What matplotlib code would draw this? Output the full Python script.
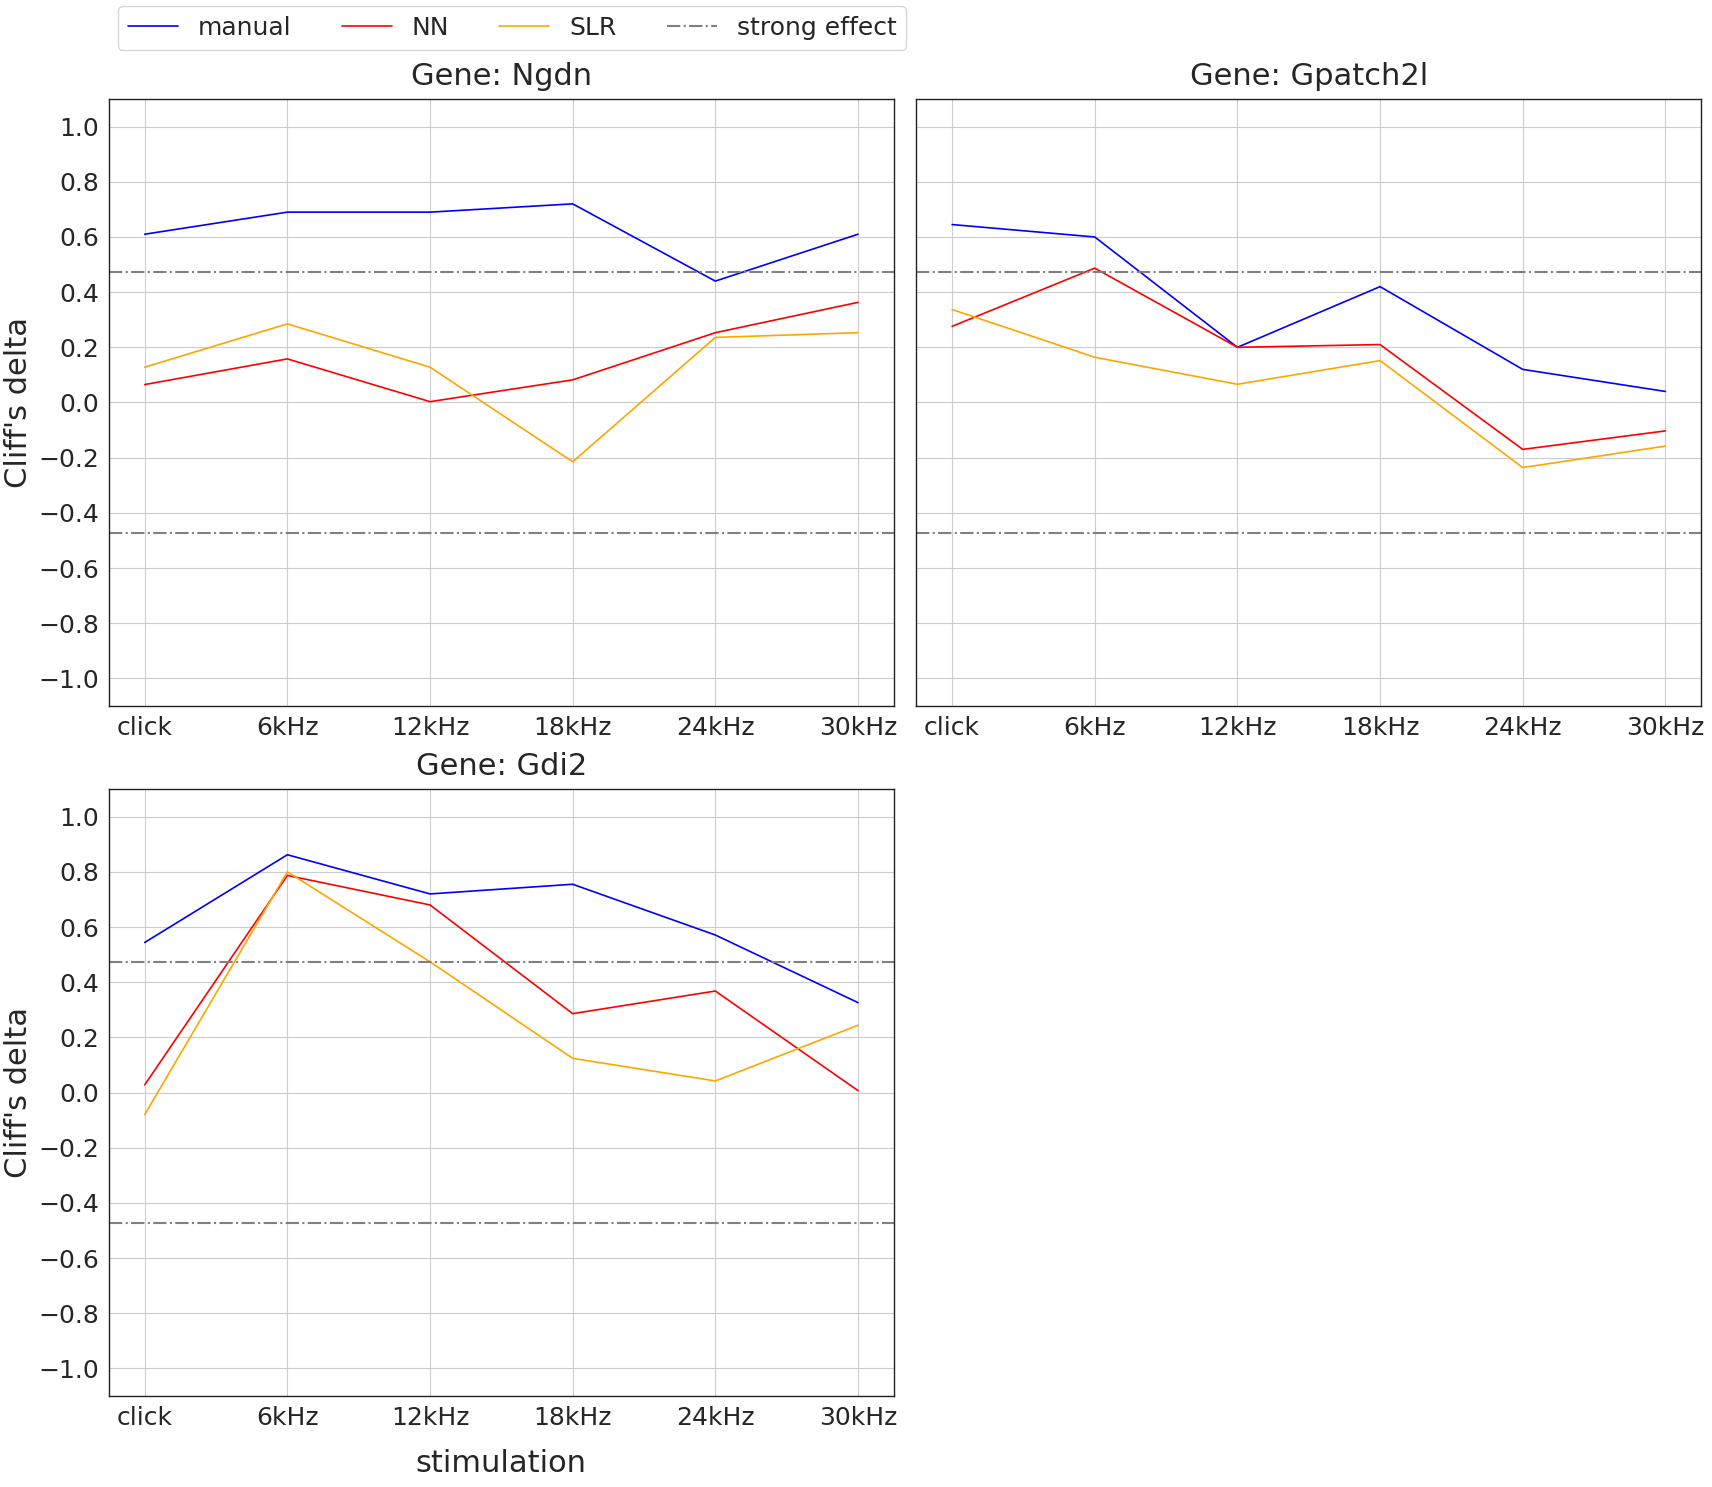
import matplotlib
matplotlib.use("Agg")
import matplotlib.pyplot as plt
import seaborn as sns

sns.set_style("whitegrid")
plt.rcParams['font.family'] = ['DejaVu Sans']

stimulation = ["click", "6kHz", "12kHz", "18kHz", "24kHz", "30kHz"]
genes = ["Ngdn", "Gpatch2l", "Gdi2"]

ngdn_manual = [0.61, 0.69, 0.69, 0.72, 0.44, 0.61]
ngdn_nn = [0.065, 0.158, 0.003, 0.082, 0.253, 0.363]
ngdn_slr = [0.128, 0.285, 0.128, -0.215, 0.236, 0.253]

gpatch_manual = [0.645, 0.60, 0.20, 0.42, 0.12, 0.04]
gpatch_nn = [0.276, 0.487, 0.20, 0.21, -0.17, -0.103]
gpatch_slr = [0.337, 0.164, 0.066, 0.152, -0.236, -0.158]

gdi2_manual = [0.544, 0.862, 0.72, 0.755, 0.571, 0.326]
gdi2_nn = [0.028, 0.787, 0.68, 0.286, 0.368, 0.007]
gdi2_slr = [-0.08, 0.80, 0.474, 0.124, 0.042, 0.244]

strong_effect = 0.474

data = {
    "Ngdn": (ngdn_manual, ngdn_nn, ngdn_slr),
    "Gpatch2l": (gpatch_manual, gpatch_nn, gpatch_slr),
    "Gdi2": (gdi2_manual, gdi2_nn, gdi2_slr),
}

fig, axes = plt.subplots(2, 2, figsize=(17.12, 14.87), dpi=100, sharey=True)
fig.subplots_adjust(left=0.0637, right=0.9936, top=0.9334, bottom=0.0612,
                     wspace=0.029, hspace=0.137)

x = list(range(len(stimulation)))
positions = [axes[0, 0], axes[0, 1], axes[1, 0]]
handles = None
for ax, gene in zip(positions, genes):
    m, n, s = data[gene]
    h1, = ax.plot(x, m, color="blue", lw=1.2, label="manual")
    h2, = ax.plot(x, n, color="red", lw=1.2, label="NN")
    h3, = ax.plot(x, s, color="orange", lw=1.2, label="SLR")
    h4 = ax.axhline(strong_effect, color="gray", ls="-.", lw=1.5, label="strong effect")
    ax.axhline(-strong_effect, color="gray", ls="-.", lw=1.5)
    handles = [h1, h2, h3, h4]
    ax.set_title(f"Gene: {gene}", fontsize=22, pad=10)
    ax.set_xlim(-0.25, 5.25)
    ax.set_ylim(-1.1, 1.1)
    ax.set_xticks(x)
    ax.set_xticklabels(stimulation)
    ax.set_yticks([-1.0, -0.8, -0.6, -0.4, -0.2, 0.0, 0.2, 0.4, 0.6, 0.8, 1.0])
    ax.tick_params(labelsize=18)
    ax.tick_params(axis='y', labelleft=(ax is not axes[0, 1]))
    for sp in ax.spines.values():
        sp.set_color("#222222")
        sp.set_linewidth(1.0)

axes[0, 0].set_ylabel("Cliff's delta", fontsize=22)
axes[1, 0].set_ylabel("Cliff's delta", fontsize=22)
axes[1, 0].set_xlabel("stimulation", fontsize=22, labelpad=14)
axes[1, 1].remove()

fig.legend(handles, ["manual", "NN", "SLR", "strong effect"], ncol=4,
           loc="upper left", bbox_to_anchor=(0.069, 0.996), fontsize=18,
           frameon=True, borderaxespad=0)

fig.savefig("out.png", dpi=100)
